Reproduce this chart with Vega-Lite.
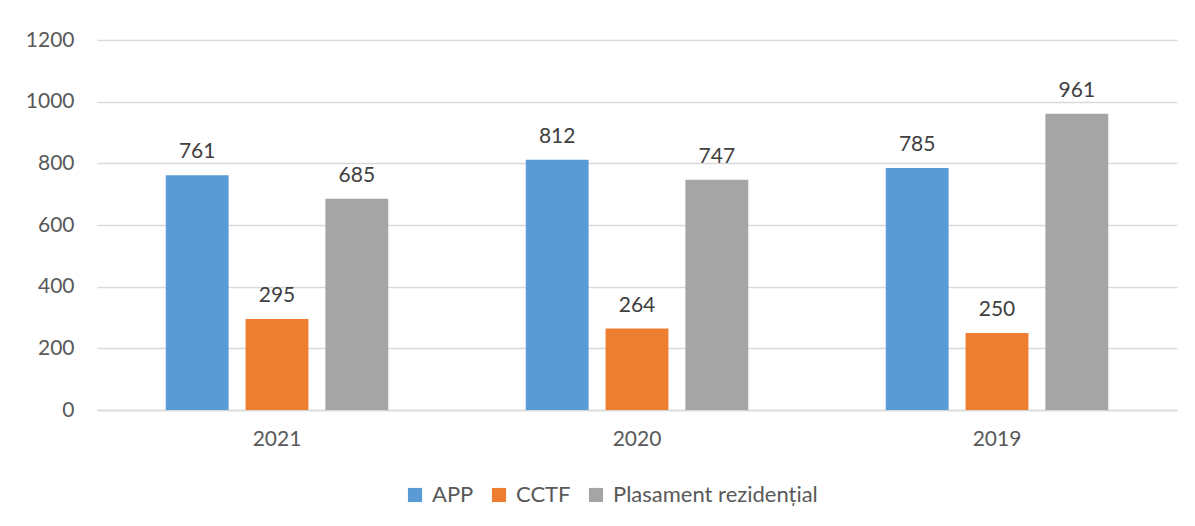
{
  "$schema": "https://vega.github.io/schema/vega-lite/v6.json",
  "autosize": "none",
  "width": 1080,
  "height": 370,
  "padding": {"left": 97, "top": 40, "right": 18, "bottom": 116},
  "background": "white",
  "config": {
    "font": "Lato",
    "view": {"stroke": null},
    "axis": {"labelFont": "Lato", "labelFontSize": 21, "labelColor": "#595959"},
    "legend": {"labelFont": "Lato", "labelFontSize": 22, "labelColor": "#595959", "labelLimit": 400}
  },
  "data": {
    "values": [
      {"an": "2021", "serie": "APP", "valoare": 761},
      {"an": "2021", "serie": "CCTF", "valoare": 295},
      {"an": "2021", "serie": "Plasament rezidențial", "valoare": 685},
      {"an": "2020", "serie": "APP", "valoare": 812},
      {"an": "2020", "serie": "CCTF", "valoare": 264},
      {"an": "2020", "serie": "Plasament rezidențial", "valoare": 747},
      {"an": "2019", "serie": "APP", "valoare": 785},
      {"an": "2019", "serie": "CCTF", "valoare": 250},
      {"an": "2019", "serie": "Plasament rezidențial", "valoare": 961}
    ]
  },
  "encoding": {
    "x": {
      "field": "an", "type": "nominal", "sort": ["2021", "2020", "2019"],
      "scale": {"paddingInner": 0.335, "paddingOuter": 0.1675},
      "axis": {"title": null, "labelAngle": 0, "ticks": false, "domainColor": "#D9D9D9", "domainWidth": 1.3, "labelPadding": 18}
    },
    "xOffset": {
      "field": "serie", "type": "nominal",
      "scale": {"paddingInner": 0.2125, "paddingOuter": 0.106}
    },
    "y": {
      "field": "valoare", "type": "quantitative",
      "scale": {"domain": [0, 1200]},
      "axis": {"title": null, "format": "d", "values": [0, 200, 400, 600, 800, 1000, 1200], "domain": false, "ticks": false, "gridColor": "#D9D9D9", "gridWidth": 1.3, "labelPadding": 23}
    }
  },
  "layer": [
    {
      "mark": {"type": "bar"},
      "encoding": {
        "color": {
          "field": "serie", "type": "nominal",
          "scale": {"domain": ["APP", "CCTF", "Plasament rezidențial"], "range": ["#5B9BD5", "#ED7D31", "#A5A5A5"]},
          "legend": {"title": null, "orient": "none", "direction": "horizontal", "legendX": 307, "legendY": 444, "symbolType": "square", "symbolSize": 200, "symbolStrokeWidth": 0, "columnPadding": 14, "labelOffset": 6}
        }
      }
    },
    {
      "mark": {"type": "text", "baseline": "alphabetic", "dy": -17, "fontSize": 21, "color": "#404040", "font": "Lato"},
      "encoding": {"text": {"field": "valoare", "type": "quantitative"}}
    }
  ]
}
